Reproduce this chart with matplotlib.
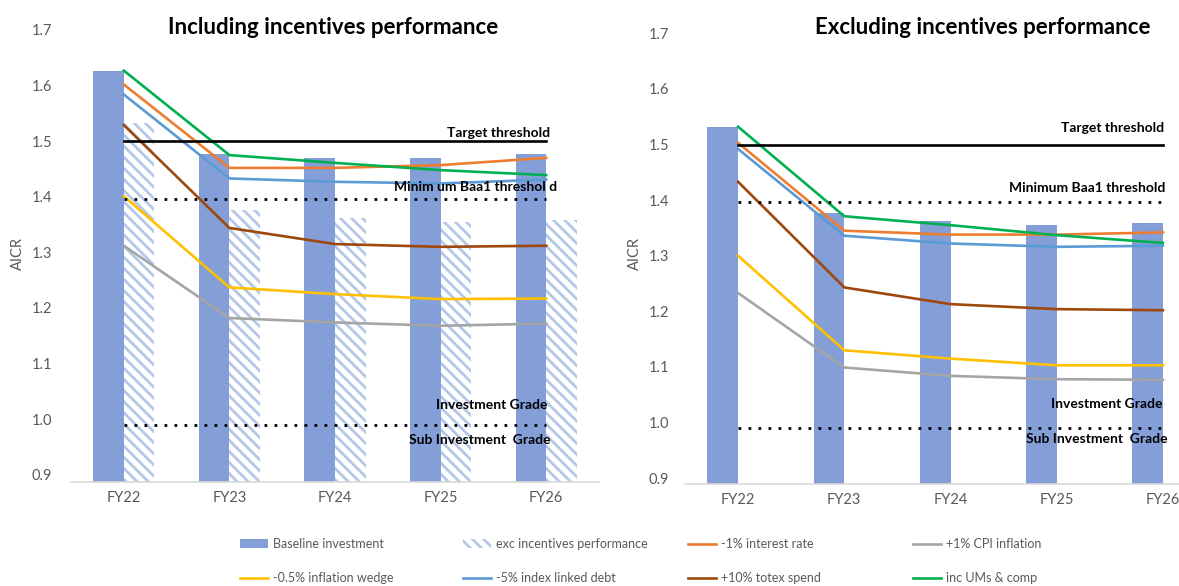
import matplotlib.pyplot as plt
from matplotlib.patches import Patch

plt.rcParams["font.family"] = ["Lato", "DejaVu Sans"]
plt.rcParams["hatch.linewidth"] = 2.0

years = ["FY22", "FY23", "FY24", "FY25", "FY26"]
y_ticks = [0.9, 1.0, 1.1, 1.2, 1.3, 1.4, 1.5, 1.6, 1.7]

baseline = [1.626, 1.477, 1.470, 1.470, 1.477]
exc_incentives = [1.532, 1.376, 1.362, 1.355, 1.358]

series_names = ["-1% interest rate", "+1% CPI inflation", "-0.5% inflation wedge",
                "-5% index linked debt", "+10% totex spend", "inc UMs & comp"]
series_colors = ["#ED7D31", "#A5A5A5", "#FFC000", "#5B9BD5", "#9E480E", "#00B050"]

# including incentives performance
inc_interest = [1.602, 1.452, 1.452, 1.457, 1.470]
inc_cpi = [1.312, 1.182, 1.174, 1.168, 1.172]
inc_wedge = [1.401, 1.237, 1.225, 1.216, 1.217]
inc_ild = [1.584, 1.433, 1.427, 1.424, 1.431]
inc_totex = [1.529, 1.344, 1.315, 1.310, 1.312]
inc_ums = [1.627, 1.475, 1.461, 1.448, 1.439]

# excluding incentives performance
exc_interest = [1.503, 1.345, 1.338, 1.338, 1.342]
exc_cpi = [1.233, 1.099, 1.084, 1.078, 1.077]
exc_wedge = [1.300, 1.130, 1.115, 1.103, 1.103]
exc_ild = [1.492, 1.336, 1.322, 1.316, 1.318]
exc_totex = [1.433, 1.243, 1.213, 1.204, 1.202]
exc_ums = [1.532, 1.371, 1.355, 1.337, 1.323]

target = 1.5
baa1 = 1.396
inv_grade = 0.99

W, H = 1179, 586
bar_blue = "#849ED8"
hatch_blue = "#B4C7E7"
grey_txt = "#595959"
stripes = "\\\\\\"

fig = plt.figure(figsize=(W / 100, H / 100), dpi=100)
ax1 = fig.add_axes([71 / W, 1 - 482.3 / H, 528 / W, 452.3 / H])
ax2 = fig.add_axes([685 / W, 1 - 484.3 / H, 531 / W, 451 / H])

x = list(range(len(years)))
bw = 0.29


def setup(ax, ybottom, ypad):
    ax.set_xlim(-0.5, len(years) - 0.5)
    ax.set_ylim(ybottom, 1.7)
    ax.set_yticks(y_ticks)
    ax.set_yticklabels([f"{t:.1f}" for t in y_ticks])
    ax.set_xticks(x)
    ax.set_xticklabels(years)
    ax.tick_params(axis="y", length=0, pad=ypad, labelsize=10.5, labelcolor=grey_txt)
    ax.tick_params(axis="x", length=0, pad=6, labelsize=10.5, labelcolor=grey_txt)
    for s in ["left", "top", "right"]:
        ax.spines[s].set_visible(False)
    ax.spines["bottom"].set_color("#D9D9D9")
    ax.spines["bottom"].set_linewidth(1.2)


def thresholds(ax, labels):
    ax.plot([x[0], x[-1]], [target, target], color="black", lw=1.9, zorder=4)
    ax.plot([x[0], x[-1]], [baa1, baa1], color="black", lw=2, ls=(0, (1, 2.6)), zorder=4)
    ax.plot([x[0], x[-1]], [inv_grade, inv_grade], color="black", lw=2, ls=(0, (1, 2.6)), zorder=4)
    for txt, xx, yy in labels:
        ax.text(xx, yy, txt, ha="right", va="center", fontsize=10, fontweight="bold", zorder=5)


# left chart
setup(ax1, 0.8865, 13.5)
ax1.bar([i - bw / 2 for i in x], baseline, bw, color=bar_blue, zorder=2)
ax1.bar([i + bw / 2 for i in x], exc_incentives, bw, color="white",
        edgecolor=hatch_blue, linewidth=0, hatch=stripes, zorder=2)
thresholds(ax1, [("Target threshold", 4.04, 1.515),
                 ("Minim um Baa1 threshol d", 4.10, 1.418),
                 ("Investment Grade", 4.01, 1.025),
                 ("Sub Investment  Grade", 4.04, 0.963)])
handles = {}
for name, col, vals in zip(series_names, series_colors,
                           [inc_interest, inc_cpi, inc_wedge, inc_ild, inc_totex, inc_ums]):
    handles[name], = ax1.plot(x, vals, color=col, lw=1.9, zorder=3)

# right chart
setup(ax2, 0.889, 11.5)
ax2.bar([i - bw / 2 for i in x], exc_incentives, bw, color=bar_blue, zorder=2)
thresholds(ax2, [("Target threshold", 4.01, 1.530),
                 ("Minimum Baa1 threshold", 4.02, 1.422),
                 ("Investment Grade", 4.0, 1.034),
                 ("Sub Investment  Grade", 4.04, 0.970)])
for name, col, vals in zip(series_names, series_colors,
                           [exc_interest, exc_cpi, exc_wedge, exc_ild, exc_totex, exc_ums]):
    ax2.plot(x, vals, color=col, lw=1.9, zorder=3)

fig.text(333 / W, 1 - 27 / H, "Including incentives performance", ha="center", va="center",
         fontsize=16, fontweight="bold")
fig.text(983 / W, 1 - 27 / H, "Excluding incentives performance", ha="center", va="center",
         fontsize=16, fontweight="bold")
fig.text(18 / W, 1 - 253 / H, "AICR", rotation=90, ha="center", va="center", fontsize=10.5, color=grey_txt)
fig.text(635 / W, 1 - 254 / H, "AICR", rotation=90, ha="center", va="center", fontsize=10.5, color=grey_txt)

# legend, four columns of two
p_solid = Patch(facecolor=bar_blue, edgecolor="none")
p_hatch = Patch(facecolor="white", edgecolor=hatch_blue, linewidth=0, hatch=stripes)
columns = [
    ([p_solid, handles["-0.5% inflation wedge"]], ["Baseline investment", "-0.5% inflation wedge"], 240),
    ([p_hatch, handles["-5% index linked debt"]], ["exc incentives performance", "-5% index linked debt"], 463),
    ([handles["-1% interest rate"], handles["+10% totex spend"]], ["-1% interest rate", "+10% totex spend"], 688),
    ([handles["+1% CPI inflation"], handles["inc UMs & comp"]], ["+1% CPI inflation", "inc UMs & comp"], 913),
]
for hs, labs, px in columns:
    fig.legend(hs, labs, loc="upper left", bbox_to_anchor=(px / W, 1 - 538 / H),
               frameon=False, borderpad=0, borderaxespad=0, fontsize=9,
               handlelength=2.2, handleheight=0.7, handletextpad=0.45, labelspacing=1.75,
               labelcolor=grey_txt)

fig.savefig("out.png", dpi=100)
